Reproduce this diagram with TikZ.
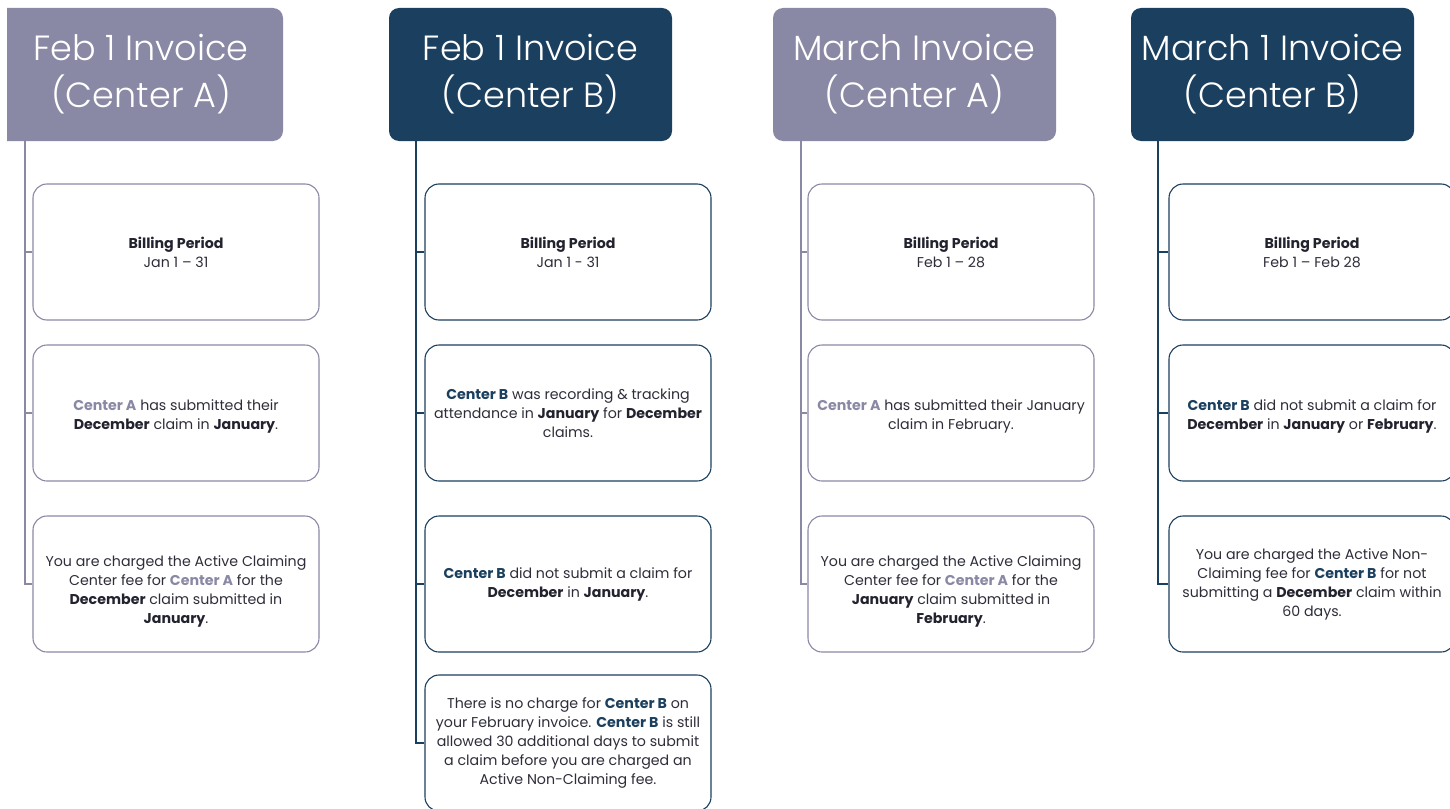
\documentclass[tikz,border=0pt]{standalone}
\usepackage{fontspec}
\setmainfont{Poppins}
\newfontfamily\hdrfont{Poppins Light}
\definecolor{lav}{HTML}{8A89A5}
\definecolor{navy}{HTML}{1B3F5E}
\definecolor{ink}{HTML}{2E2E3A}
\definecolor{inkb}{HTML}{23232F}
\newcommand\ca{\textbf{\textcolor{lav}{Center A}}}
\newcommand\cb{\textbf{\textcolor{navy}{Center B}}}
\newcommand\bk[1]{\textbf{\textcolor{inkb}{#1}}}
\tikzset{
  hdr/.style={fill=#1, text=white, rounded corners=10pt, minimum width=283pt, minimum height=133pt,
    inner sep=0pt, align=center, font=\hdrfont\fontsize{35}{47}\selectfont},
  infobox/.style={draw=#1, line width=1.1pt, rounded corners=14pt, minimum width=286pt, minimum height=136pt,
    inner sep=0pt, fill=white},
  boxtext/.style={inner sep=0pt, align=center, text=ink, font=\fontsize{14.2}{19}\selectfont},
  trunk/.style={draw=#1, line width=1.5pt},
}
\begin{document}
\begin{tikzpicture}[x=1pt,y=-1pt]
\useasboundingbox (0,0) rectangle (1450,808);
% ---------- Column 1 ----------
\begin{scope}
\clip (7,0) rectangle (400,200);
\fill[lav, rounded corners=10pt] (-20,8) rectangle (283,141);
\end{scope}
\node[hdr=lav, fill=none, minimum width=276pt] (h1) at (141,74.5) {Feb 1 Invoice\\(Center A)};
\coordinate (r1) at (25,141);
\node[infobox=lav] (b11) at (176,252) {};
\node[infobox=lav] (b12) at (176,413) {};
\node[infobox=lav] (b13) at (176,584) {};
\node[boxtext] (t11) at (b11.center) {\bk{Billing Period}\\Jan 1 – 31};
\node[boxtext] (t12) at ([yshift=-3pt]b12.center) {\ca{} has submitted their\\\bk{December} claim in \bk{January}.};
\node[boxtext] (t13) at ([yshift=-7pt]b13.center) {You are charged the Active Claiming\\Center fee for \ca{} for the\\\bk{December} claim submitted in\\\bk{January}.};
\foreach \b in {b11,b12,b13}{\draw[trunk=lav] (r1) |- (\b.west);}
% ---------- Column 2 ----------
\node[hdr=navy] (h2) at (530.5,74.5) {Feb 1 Invoice\\(Center B)};
\node[infobox=navy] (b21) at (568,252) {};
\node[infobox=navy] (b22) at (568,413) {};
\node[infobox=navy] (b23) at (568,584) {};
\node[infobox=navy] (b24) at (568,743) {};
\node[boxtext] (t21) at (b21.center) {\bk{Billing Period}\\Jan 1 - 31};
\node[boxtext] (t22) at (b22.center) {\cb{} was recording \& tracking\\attendance in \bk{January} for \bk{December}\\claims.};
\node[boxtext] (t23) at (b23.center) {\cb{} did not submit a claim for\\\bk{December} in \bk{January}.};
\node[boxtext] (t24) at (b24.center) {There is no charge for \cb{} on\\your February invoice. \cb{} is still\\allowed 30 additional days to submit\\a claim before you are charged an\\Active Non-Claiming fee.};
\foreach \b in {b21,b22,b23,b24}{\draw[trunk=navy] ([xshift=27pt]h2.south west) |- (\b.west);}
% ---------- Column 3 ----------
\node[hdr=lav] (h3) at (914.5,74.5) {March Invoice\\(Center A)};
\node[infobox=lav] (b31) at (951,252) {};
\node[infobox=lav] (b32) at (951,413) {};
\node[infobox=lav] (b33) at (951,584) {};
\node[boxtext] (t31) at (b31.center) {\bk{Billing Period}\\Feb 1 – 28};
\node[boxtext] (t32) at ([yshift=-3pt]b32.center) {\ca{} has submitted their January\\claim in February.};
\node[boxtext] (t33) at ([yshift=-7pt]b33.center) {You are charged the Active Claiming\\Center fee for \ca{} for the\\\bk{January} claim submitted in\\\bk{February}.};
\foreach \b in {b31,b32,b33}{\draw[trunk=lav] ([xshift=28pt]h3.south west) |- (\b.west);}
% ---------- Column 4 ----------
\node[hdr=navy] (h4) at (1272.5,74.5) {March 1 Invoice\\(Center B)};
\node[infobox=navy] (b41) at (1312,252) {};
\node[infobox=navy] (b42) at (1312,413) {};
\node[infobox=navy] (b43) at (1312,584) {};
\node[boxtext] (t41) at (b41.center) {\bk{Billing Period}\\Feb 1 – Feb 28};
\node[boxtext] (t42) at ([yshift=-3pt]b42.center) {\cb{} did not submit a claim for\\\bk{December} in \bk{January} or \bk{February}.};
\node[boxtext] (t43) at (b43.center) {You are charged the Active Non-\\Claiming fee for \cb{} for not\\submitting a \bk{December} claim within\\60 days.};
\foreach \b in {b41,b42,b43}{\draw[trunk=navy] ([xshift=27pt]h4.south west) |- (\b.west);}
\end{tikzpicture}
\end{document}
